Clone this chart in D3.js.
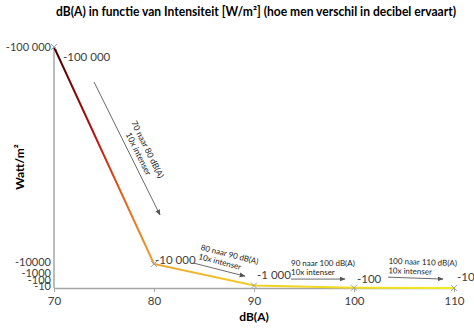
<!DOCTYPE html>
<html><head><meta charset="utf-8">
<script src="https://cdn.jsdelivr.net/npm/d3@7"></script>
<style>body{margin:0;background:#fff}svg{display:block}text{font-family:Lato,"Open Sans",sans-serif}</style>
</head><body><svg id="c" width="474" height="335"></svg>
<script>
const dbValues = [70, 80, 90, 100, 110];
const intensity = [100000, 10000, 1000, 100, 10];
const pointLabels = ["-100 000", "-10 000", "-1 000", "-100", "-10"];
const yTickValues = [100000, 10000, 1000, 100, 10];
const yTickLabels = ["-100 000", "-10000", "-1000", "-100", "-10"];
const annoLine1 = ["70 naar 80 dB(A)", "80 naar 90 dB(A)", "90 naar 100 dB(A)", "100 naar 110 dB(A)"];
const annoLine2 = ["10x intenser", "10x intenser", "10x intenser", "10x intenser"];
const arrowFromDb = [74.0, 83.9, 93.7, 103.4];
const arrowFromVal = [85500, 10400, 3700, 4500];
const arrowToDb = [80.6, 89.1, 99.1, 108.9];
const arrowToVal = [30300, 4900, 3700, 3700];

const svg = d3.select("#c");
const x = d3.scaleLinear().domain([70,110]).range([54,454]);
const y = d3.scaleLinear().domain([0,100000]).range([288,47]);

svg.append("text").attr("x",256).attr("y",16).attr("text-anchor","middle")
  .attr("font-size",12.5).attr("font-weight","bold").attr("fill","#000")
  .attr("textLength",400).attr("lengthAdjust","spacingAndGlyphs")
  .text("dB(A) in functie van Intensiteit [W/m²] (hoe men verschil in decibel ervaart)");

// axes
const xAxis = svg.append("g").attr("transform","translate(0,288)")
  .call(d3.axisBottom(x).tickValues(dbValues).tickSize(4).tickSizeOuter(0).tickPadding(5));
xAxis.select(".domain").attr("stroke","#a6a6a6").attr("stroke-width",1.5);
xAxis.selectAll(".tick line").attr("stroke","#a6a6a6");
xAxis.selectAll(".tick text").attr("font-size",11.5).attr("fill","#404040").attr("font-family","Lato, sans-serif");

svg.append("line").attr("x1",x(70)).attr("x2",x(70)).attr("y1",y(100000)).attr("y2",y(0))
  .attr("stroke","#a6a6a6").attr("stroke-width",1.5);

const yOffsets = [0, -2, -12, -8, -2];
svg.append("g").selectAll("text").data(yTickValues).join("text")
  .attr("x",51).attr("y",(d,i)=>y(d)+yOffsets[i]).attr("dy","0.35em")
  .attr("text-anchor","end").attr("font-size",11).attr("fill","#404040")
  .text((d,i)=>yTickLabels[i]);

svg.append("text").attr("x",254).attr("y",321).attr("text-anchor","middle")
  .attr("font-size",12).attr("font-weight","bold").text("dB(A)");
svg.append("text").attr("transform","translate(24,167) rotate(-90)").attr("text-anchor","middle")
  .attr("font-size",12).attr("font-weight","bold").text("Watt/m²");

// gradient line
const defs = svg.append("defs");
const grad = defs.append("linearGradient").attr("id","lg").attr("gradientUnits","userSpaceOnUse")
  .attr("x1",x(70)).attr("x2",x(110)).attr("y1",0).attr("y2",0);
[[0,"#4a0000"],[0.1,"#b81010"],[0.17,"#e0601a"],[0.25,"#eea030"],[0.5,"#f2d020"],[1,"#f0ec20"]]
  .forEach(s=>grad.append("stop").attr("offset",s[0]).attr("stop-color",s[1]));
const pts = dbValues.map((d,i)=>[d,intensity[i]]);
svg.append("path").datum(pts).attr("fill","none").attr("stroke","url(#lg)").attr("stroke-width",2)
  .attr("d",d3.line().x(d=>x(d[0])).y(d=>y(d[1])));

// markers
const mk = svg.append("g");
pts.forEach(p=>{
  const cx=x(p[0]), cy=y(p[1]);
  mk.append("path").attr("d",`M${cx-3},${cy-3}L${cx+3},${cy+3}M${cx-3},${cy+3}L${cx+3},${cy-3}`)
    .attr("stroke","#a0a0a0").attr("stroke-width",1);
});

// point labels
const lblDx = [9, 1, 3, 3, 3], lblDy = [10, -4, -11, -9, -11];
svg.append("g").selectAll("text").data(pts).join("text")
  .attr("x",(d,i)=>x(d[0])+lblDx[i]).attr("y",(d,i)=>y(d[1])+lblDy[i]).attr("dy","0.35em")
  .attr("font-size",11.5).attr("fill","#404040").text((d,i)=>pointLabels[i]);

// annotations
defs.append("marker").attr("id","ah").attr("viewBox","0 0 10 10").attr("refX",9).attr("refY",5)
  .attr("markerWidth",6).attr("markerHeight",6).attr("orient","auto")
  .append("path").attr("d","M0,1L10,5L0,9z").attr("fill","#555");
const an = svg.append("g");
arrowFromDb.forEach((d,i)=>{
  const x1=x(d), y1=y(arrowFromVal[i]), x2=x(arrowToDb[i]), y2=y(arrowToVal[i]);
  an.append("line").attr("x1",x1).attr("y1",y1).attr("x2",x2).attr("y2",y2)
    .attr("stroke","#6a6a6a").attr("stroke-width",1).attr("marker-end","url(#ah)");
  const ang = Math.atan2(y2-y1,x2-x1)*180/Math.PI;
  let tx, ty, anchor;
  if(i===0){ tx=(x1+x2)/2; ty=(y1+y2)/2; anchor="middle"; }
  else { tx=x1+ (i===1?4:0); ty=y1; anchor="start"; }
  const fs = i===0 ? 8.5 : 8;
  const g = an.append("g").attr("transform",`translate(${tx},${ty}) rotate(${ang})`);
  g.append("text").attr("x",i===0?10:0).attr("y",i===0?-15:-13.5).attr("text-anchor",anchor)
    .attr("font-size",fs).attr("fill","#222").text(annoLine1[i]);
  g.append("text").attr("x",i===0?10:0).attr("y",i===0?-5:-4).attr("text-anchor",anchor)
    .attr("font-size",fs).attr("fill","#222").text(annoLine2[i]);
});
</script></body></html>
